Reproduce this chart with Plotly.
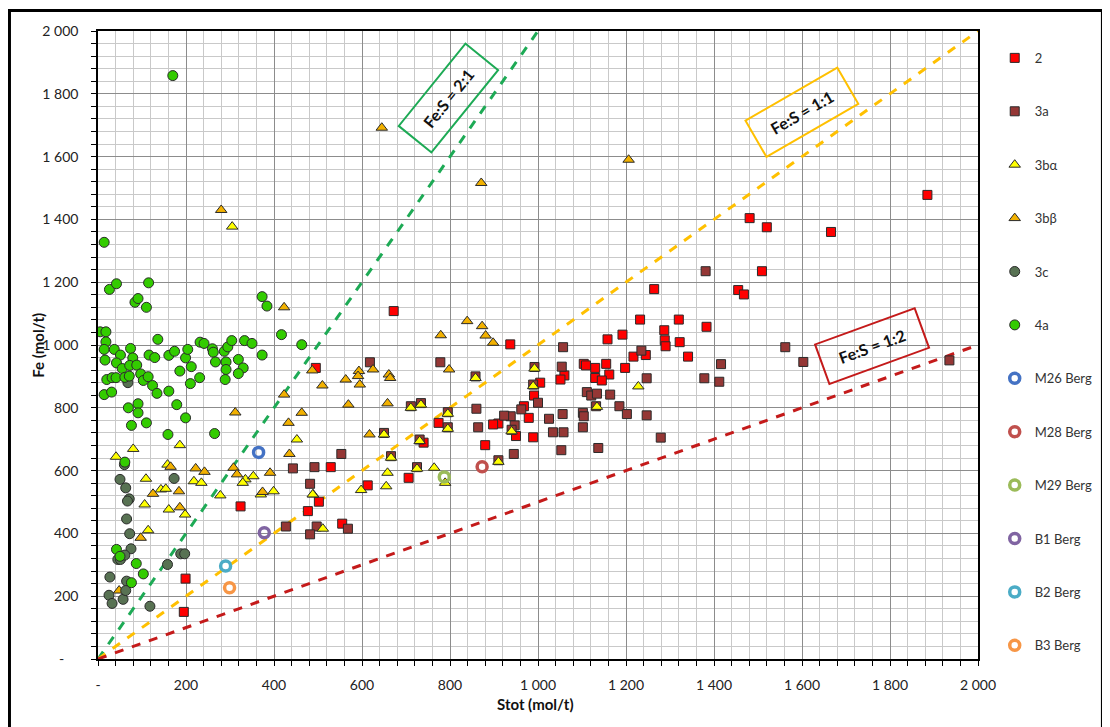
import plotly.graph_objects as go

# ---------------- data ----------------
s2_x = [1885, 1481, 1520, 1666, 1509, 1264, 1455, 1468, 1232, 1320, 1383, 1287, 1158, 1192, 1288, 1290, 1322, 1341,
        1245, 1217, 1198, 1104, 1109, 1130, 1155, 1162, 1130, 1145, 1060, 1051, 672, 495, 937, 1005, 991, 968, 979,
        910, 898, 950, 989, 880, 774, 740, 706, 613, 529, 502, 477, 555, 324, 199, 195]
s2_y = [1478, 1404, 1375, 1360, 1235, 1178, 1175, 1161, 1081, 1081, 1058, 1047, 1018, 1033, 1015, 996, 1009, 963,
        968, 963, 927, 940, 935, 927, 940, 906, 895, 887, 903, 890, 1108, 927, 1002, 880, 839, 805, 768,
        750, 747, 710, 706, 681, 752, 689, 577, 553, 611, 501, 471, 431, 486, 256, 150]

s3a_x = [1381, 1562, 1603, 1235, 1416, 1378, 1412, 1247, 1054, 1057, 1111, 1121, 1134, 1164, 1185, 1202, 1247, 1279,
         1056, 1102, 1104, 1132, 1058, 1102, 1053, 1137, 1935, 618, 778, 858, 992, 989, 1000, 962, 938, 923, 947,
         940, 1025, 1034, 945, 910, 864, 860, 795, 795, 711, 734, 731, 650, 666, 553, 492, 443, 725, 482, 427,
         497, 482, 568]
s3a_y = [1235, 993, 946, 982, 939, 894, 883, 894, 931, 993, 850, 839, 845, 842, 805, 780, 776, 705,
         780, 784, 773, 805, 722, 738, 665, 672, 951, 945, 945, 900, 930, 874, 816, 795, 773, 775, 744,
         730, 765, 722, 653, 633, 738, 797, 786, 738, 805, 815, 699, 720, 646, 653, 611, 607, 611, 558, 422,
         422, 397, 415]

s3ba_x = [305, 41, 80, 186, 158, 109, 106, 143, 154, 161, 198, 114, 218, 235, 278, 452, 335, 329, 353, 370, 399,
          489, 511, 488, 598, 658, 655, 764, 789, 1228, 1134, 992, 989, 940, 910, 858, 795, 795, 711, 734, 731,
          650, 666, 725]
s3ba_y = [1377, 644, 669, 681, 619, 574, 492, 540, 542, 476, 460, 410, 566, 561, 521, 699, 572, 561, 582, 524, 534,
          524, 415, 524, 538, 593, 550, 609, 561, 868, 803, 925, 869, 725, 628, 895, 781, 733, 800, 810, 694,
          715, 641, 606]

s3bb_x = [645, 1206, 871, 280, 423, 839, 873, 881, 898, 779, 487, 510, 625, 593, 591, 595, 563, 661, 664, 798,
          658, 569, 617, 463, 433, 423, 312, 435, 308, 316, 391, 374, 222, 242, 184, 186, 125, 97, 48, 165]
s3bb_y = [1692, 1590, 1516, 1430, 1120, 1076, 1060, 1030, 1007, 1031, 919, 871, 922, 917, 901, 874, 890, 906, 895, 922,
          814, 810, 715, 784, 752, 842, 785, 653, 609, 588, 593, 532, 607, 596, 534, 483, 526, 386, 218, 612]

s3c_x = [60, 50, 63, 71, 67, 65, 72, 75, 45, 51, 61, 173, 158, 188, 197, 27, 65, 25, 32, 57, 63, 118, 68]
s3c_y = [619, 572, 545, 510, 503, 446, 399, 351, 317, 317, 331, 575, 301, 335, 335, 261, 248, 203, 177, 190, 218, 168, 880]

s4a_x = [170, 14, 26, 42, 115, 84, 91, 110, 5, 18, 18, 14, 16, 37, 51, 74, 79, 42, 55, 72, 88, 20, 32, 41, 61, 71,
         97, 103, 114, 124, 134, 14, 31, 69, 91, 91, 76, 110, 136, 116, 129, 161, 174, 186, 199, 204, 212, 161, 210,
         231, 179, 199, 159, 232, 241, 260, 262, 267, 287, 295, 304, 291, 291, 289, 319, 330, 319, 333, 350, 373,
         373, 384, 265, 417, 463, 61, 42, 50, 87, 103, 76]
s4a_y = [1858, 1327, 1177, 1195, 1198, 1136, 1148, 1120, 1042, 1042, 1010, 986, 952, 986, 968, 989, 959, 943, 925, 935,
         936, 890, 896, 896, 897, 901, 908, 887, 899, 871, 846, 842, 850, 800, 813, 784, 744, 752, 1018, 968, 960,
         967, 980, 917, 959, 986, 931, 853, 877, 896, 810, 768, 715, 1009, 1005, 988, 977, 946, 980, 994, 1014,
         946, 922, 890, 954, 927, 909, 1014, 1005, 968, 1154, 1124, 718, 1033, 1001, 627, 349, 327, 304, 271, 243]

berg_names = ["M26 Berg", "M28 Berg", "M29 Berg", "B1 Berg", "B2 Berg", "B3 Berg"]
berg_x = [365, 873, 787, 378, 290, 299]
berg_y = [658, 612, 580, 402, 296, 227]
berg_colors = ["#4472C4", "#C0504D", "#9BBB59", "#8064A2", "#4BACC6", "#F79646"]

ratio_names = ["Fe:S = 2:1", "Fe:S = 1:1", "Fe:S = 1:2"]
ratio_x = [[0, 1000], [0, 2000], [0, 2000]]
ratio_y = [[0, 2000], [0, 2000], [0, 1000]]
ratio_colors = ["#1DAA55", "#FFC000", "#C41A1A"]
ratio_label_x = [796, 1601, 1760]
ratio_label_y = [1788, 1741, 997]
ratio_label_angle = [-51, -30, -20]

tick_vals = list(range(0, 2001, 200))
x_tick_text = ["-", "200", "400", "600", "800", "1 000", "1 200", "1 400", "1 600", "1 800", "2 000"]
y_tick_text = ["-\u00a0\u00a0\u00a0\u00a0"] + x_tick_text[1:]

FONT = "Lato, 'Open Sans', sans-serif"

fig = go.Figure()

# ratio lines
for xs, ys, c in zip(ratio_x, ratio_y, ratio_colors):
    fig.add_trace(go.Scatter(x=xs, y=ys, mode="lines", showlegend=False, hoverinfo="skip",
                             line=dict(color=c, width=3, dash="dash")))

series = [
    ("2", s2_x, s2_y, "square", "#FF0000", 9),
    ("3a", s3a_x, s3a_y, "square", "#953735", 9),
    ("3bα", s3ba_x, s3ba_y, "triangle-up", "#FFFF00", 10),
    ("3bβ", s3bb_x, s3bb_y, "triangle-up", "#F2B100", 10),
    ("3c", s3c_x, s3c_y, "circle", "#587253", 10),
    ("4a", s4a_x, s4a_y, "circle", "#33CC00", 10),
]
for i, (name, xs, ys, sym, col, sz) in enumerate(series):
    fig.add_trace(go.Scatter(x=xs, y=ys, mode="markers", name=name, legendgroup="g%d" % i,
                             marker=dict(symbol=sym, color=col, size=sz,
                                         line=dict(color="#2a2a2a", width=1))))

for j, (name, bx, by, col) in enumerate(zip(berg_names, berg_x, berg_y, berg_colors)):
    fig.add_trace(go.Scatter(x=[bx], y=[by], mode="markers", name=name, legendgroup="b%d" % j,
                             marker=dict(symbol="circle-open", color=col, size=10,
                                         line=dict(color=col, width=3.5))))

annotations = []
for name, ax, ay, ang, col in zip(ratio_names, ratio_label_x, ratio_label_y, ratio_label_angle, ratio_colors):
    annotations.append(dict(x=ax, y=ay, xref="x", yref="y", text="<b>%s</b>" % name, showarrow=False,
                            textangle=ang, font=dict(family=FONT, size=16, color="#111111"),
                            bordercolor=col, borderwidth=2, borderpad=0, width=104, height=40,
                            bgcolor="rgba(255,255,255,0)", xanchor="center", yanchor="middle"))
annotations.append(dict(x=-0.081, y=0.5, xref="paper", yref="paper", text="<b>Fe (mol/t)</b>",
                        textangle=-90, showarrow=False, font=dict(family=FONT, size=15, color="#111111")))
annotations.append(dict(x=0.4977, y=-0.0884, xref="paper", yref="paper", text="<b>Stot (mol/t)</b>",
                        showarrow=False, font=dict(family=FONT, size=15, color="#111111")))

axis_common = dict(
    range=[0, 2000], tickmode="array", tickvals=tick_vals,
    showgrid=True, gridcolor="#8C8C8C", gridwidth=1,
    showline=True, linecolor="#000000", linewidth=1.5, mirror=True,
    ticks="outside", ticklen=5, tickcolor="#000000", tickwidth=1,
    minor=dict(dtick=40, tick0=0, showgrid=True, gridcolor="#C9C9C9", gridwidth=1,
               ticks="outside", ticklen=5, tickcolor="#000000"),
    tickfont=dict(family=FONT, size=14, color="#222222"),
    zeroline=False, fixedrange=True,
)

fig.update_layout(
    width=1102, height=719,
    margin=dict(l=90, r=128, t=23, b=68),
    paper_bgcolor="white", plot_bgcolor="white",
    font=dict(family=FONT, color="#333333"),
    xaxis=dict(**axis_common, ticktext=x_tick_text, ticklabelstandoff=7),
    yaxis=dict(**axis_common, ticktext=y_tick_text, ticklabelstandoff=10),
    legend=dict(x=1.019, y=0.981, xanchor="left", yanchor="top", tracegroupgap=33.5,
                font=dict(family=FONT, size=13, color="#333333"), itemwidth=30,
                bgcolor="rgba(0,0,0,0)", maxheight=700),
    annotations=annotations,
    shapes=[dict(type="rect", xref="paper", yref="paper", x0=-0.1006, x1=1.1414, y0=-0.2, y1=1.0326,
                 line=dict(color="#000000", width=3), fillcolor="rgba(0,0,0,0)", layer="above")],
    showlegend=True,
)

fig.write_html("out.html")
